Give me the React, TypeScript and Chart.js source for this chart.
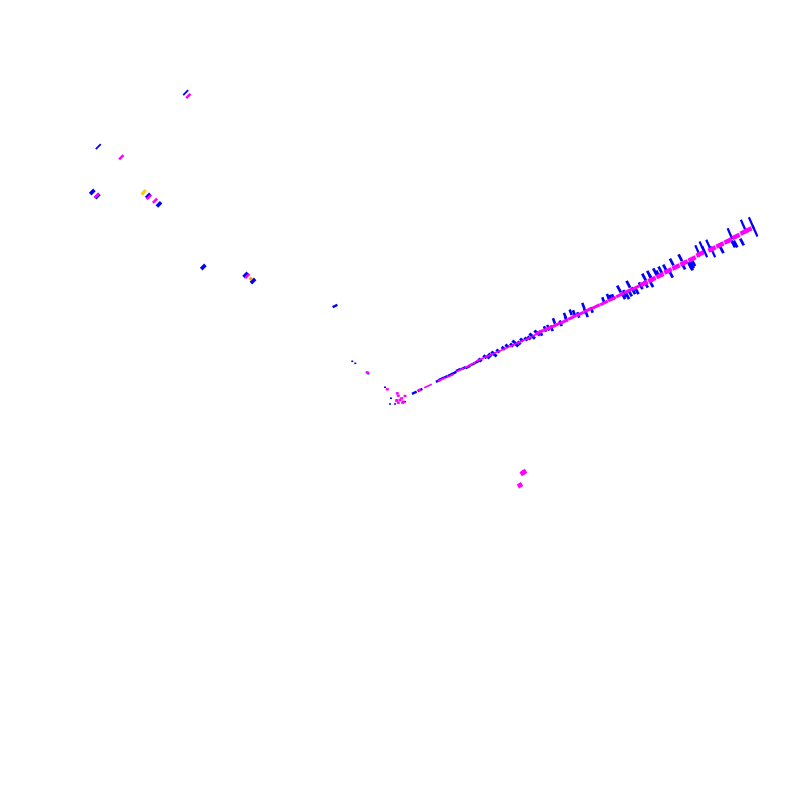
import React, { useEffect, useRef } from "react";
import { Chart, registerables } from "chart.js";

Chart.register(...registerables);

type P = [number, number];

// Long cross ticks on the far end of the streak
const blueLong: P[] = [[751.3,222.7],[755,231],[743.3,225.3],[730,233.7],[708.7,245.3],[712.7,251.7],[702,247],[697.7,250.7],[704.7,251.7]];
const blueMid: P[] = [[733.3,244],[735.5,244],[742,242],[721.7,249.7],[693.3,262.7],[691,267],[671.7,262],[680.3,257.7],[683.3,266],[690,265.7],[692,265],[671,274.3],[660.3,270],[655,271.7],[649,274.3],[644,277],[646,284.3],[651.3,283.7],[628.3,284.3],[619,289],[623.3,295.7],[627.3,295.7],[625,293.5],[633.3,290.7],[636.7,290.7],[640.7,285.7],[665,268],[658,274],[651,278],[630,293]];
const blueShort: P[] = [[541,333],[548.3,327.7],[551.7,328.3],[554,321],[560.7,323.3],[565,315.7],[570.7,312.3],[578.3,315],[585,311],[583.3,305.7],[586.7,314.3],[591.7,310],[603.3,300],[610.7,297.7],[608,296.7],[613,297],[574,313],[566,319],[545,329]];
const blueFine: P[] = [[485,356.7],[490,355],[495,355],[503.3,348.3],[511.7,345],[516.7,345],[521.7,340],[531,335],[538.3,334],[533.3,337.3],[480,360],[498,351],[526,339],[488,357],[493,353],[507,346],[514,342],[519,343],[529,338],[536,332]];
const blueAlong: P[] = [[414.3,392.7],[420,390],[438.3,380.7],[445,377.3],[450,375],[454,373],[458.3,370],[463.3,368.3],[468,367],[473,364],[477.3,361.7],[441,379],[335,306]];
const blueSpecks: P[] = [[385,387.3],[391,398.3],[396.7,400],[390,404],[395,404],[405,401.7],[352.3,361.3],[355.3,363.3],[366.7,372.3],[368.3,373.7]];

// Isolated dashes in the upper left
const blueDashThin: P[] = [[185.7,92.7],[98.3,146.7]];
const blueDashThick: P[] = [[92.3,192],[97.3,196],[148.3,196],[159,204.3],[203.3,267],[245.7,275],[253,281]];
const magentaDash: P[] = [[188.3,96],[121.3,157.3],[96.7,195.7],[149,197],[155,200.7],[247.3,276]];
const yellowDash: P[] = [[143.7,192.3]];
const orangeDash: P[] = [[250.7,278.7]];
const magentaBlobs: P[] = [[522.7,473],[520,485.3],[524,472]];
const magentaCluster: P[] = [[387.3,389.3],[397.3,393.3],[398.3,395.7],[405,396],[400,400],[403.3,401.7],[396.7,400.7],[401.7,398.3],[398.3,402.7],[402.7,402.7],[419.3,390],[367.7,372.7]];

// The streak itself
const magentaThin: P[] = [[428,386],[441.7,379.3],[450,376],[460,370],[468.3,366],[472,364],[480,359.6],[488,356],[496,352.5],[504,349],[512,345.5],[520,342],[528,338.5],[536,334.5]];
const magentaMid: P[] = [[540,332],[548,328.5],[556,325],[564,321.5],[572,317.5],[580,314],[588,310],[596,306.5],[604,303],[612,299],[620,295],[628,291],[636,287.5]];
const magentaThick: P[] = [[644,283.5],[652,279.5],[660,275.5],[668,271],[676,267],[684,263],[692,259],[700,254],[712,249],[720,245],[728,241],[736,236.5],[744,232],[748,230]];

const BLUE = "#0000ff";
const MAGENTA = "#ff00ff";

function dash(data: P[], color: string, radius: number, width: number, rotation: number, order: number) {
  return {
    type: "scatter" as const,
    data: data.map(([x, y]) => ({ x, y })),
    order,
    pointStyle: "line",
    pointRadius: radius,
    pointBorderWidth: width,
    pointBorderColor: color,
    pointBackgroundColor: color,
    pointRotation: rotation,
    showLine: false,
  };
}

export default function App() {
  const ref = useRef<HTMLCanvasElement>(null);
  useEffect(() => {
    const chart = new Chart(ref.current!, {
      type: "scatter",
      data: {
        datasets: [
          dash(blueLong, BLUE, 6, 2.2, 66, 9),
          dash(blueMid, BLUE, 3.8, 2.8, 62, 9),
          dash(blueShort, BLUE, 3, 2.6, 70, 9),
          dash(blueFine, BLUE, 2.2, 3, 40, 9),
          dash(blueAlong, BLUE, 2.6, 2.4, -25, 9),
          dash(blueSpecks, BLUE, 1, 1.6, 0, 9),
          dash(blueDashThin, BLUE, 3.5, 1.8, -45, 9),
          dash(blueDashThick, BLUE, 3, 3.6, -45, 9),
          dash(magentaThin, MAGENTA, 4.2, 1.8, -25, 3),
          dash(magentaMid, MAGENTA, 4.2, 3, -25, 3),
          dash(magentaThick, MAGENTA, 4, 4.4, -26, 3),
          dash(magentaDash, MAGENTA, 3, 2.6, -45, 2),
          dash(magentaBlobs, MAGENTA, 2.4, 4.6, -30, 2),
          dash(magentaCluster, MAGENTA, 1.5, 2.4, 0, 2),
          dash(yellowDash, "#ffcc00", 3, 3.2, -50, 1),
          dash(orangeDash, "#ff9900", 1.5, 3, -45, 1),
        ],
      },
      options: {
        animation: false,
        responsive: false,
        devicePixelRatio: 1,
        layout: { padding: 0, autoPadding: false },
        plugins: { legend: { display: false }, tooltip: { enabled: false } },
        scales: {
          x: { type: "linear", display: false, min: 0, max: 800 },
          y: { type: "linear", display: false, min: 0, max: 800, reverse: true },
        },
      },
    });
    return () => chart.destroy();
  }, []);
  return (
    <canvas
      ref={ref}
      width={800}
      height={800}
      style={{ position: "fixed", left: 0, top: 0, display: "block" }}
    />
  );
}
